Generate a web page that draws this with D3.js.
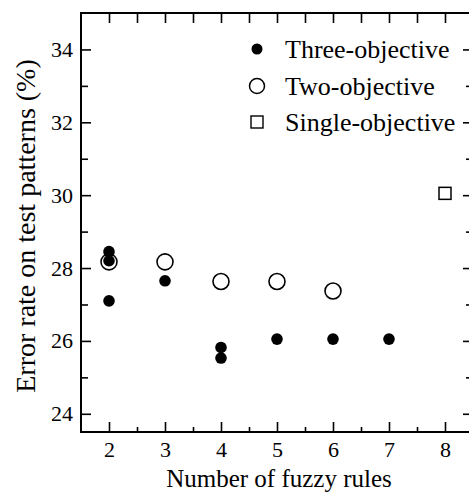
<!DOCTYPE html>
<html>
<head>
<meta charset="utf-8">
<script src="https://cdn.jsdelivr.net/npm/d3@7"></script>
<style>
  html, body { margin: 0; padding: 0; background: #fff; overflow: hidden; }
  svg { display: block; }
</style>
</head>
<body>
<div id="chart"></div>
<script>
"use strict";

// Values (error rate, %)
var threeObjective = [
  [2, 28.45], [2, 28.2], [2, 27.1],
  [3, 27.65],
  [4, 25.82], [4, 25.53],
  [5, 26.05], [6, 26.05], [7, 26.05]
];
var twoObjective = [[2, 28.17], [3, 28.17], [4, 27.63], [5, 27.63], [6, 27.37]];
var singleObjective = [[8, 30.05]];

var xTicks = [2, 3, 4, 5, 6, 7, 8];
var yTicks = [24, 26, 28, 30, 32, 34];
var legendLabels = ['Three-objective', 'Two-objective', 'Single-objective'];

var serif = '"Liberation Serif", "Times New Roman", Times, serif';
var width = 469, height = 492;
var plotLeft = 81, plotTop = 13, plotRight = 473, plotBottom = 432;

var x = d3.scaleLinear().domain([1.5, 8.5]).range([plotLeft, plotRight]);
var y = d3.scaleLinear().domain([23.5, 35]).range([plotBottom, plotTop]);

var svg = d3.select('#chart').append('svg')
  .attr('width', width)
  .attr('height', height)
  .style('font-family', serif);

// minor ticks sit half way between the major ones
var xMinor = d3.range(2.5, 8.5, 1);
var yMinor = d3.range(25, 35, 2);

var axisStyle = function (g) {
  g.attr('font-family', null).attr('font-size', null);
  g.select('.domain').remove();
  g.selectAll('line').attr('stroke', '#000').attr('stroke-width', 1.6);
  g.selectAll('text')
    .style('font-family', serif)
    .style('font-size', '22px')
    .attr('fill', '#000');
};

// bottom
svg.append('g').attr('transform', 'translate(0,' + plotBottom + ')')
  .call(d3.axisBottom(x).tickValues(xTicks).tickSizeInner(-10).tickSizeOuter(0).tickPadding(9).tickFormat(d3.format('d')))
  .call(axisStyle);
svg.append('g').attr('transform', 'translate(0,' + plotBottom + ')')
  .call(d3.axisBottom(x).tickValues(xMinor).tickSize(-5).tickFormat(''))
  .call(axisStyle);

// top
svg.append('g').attr('transform', 'translate(0,' + plotTop + ')')
  .call(d3.axisTop(x).tickValues(xTicks.concat(xMinor)).tickSize(-10).tickFormat(''))
  .call(axisStyle);

// left
svg.append('g').attr('transform', 'translate(' + plotLeft + ',0)')
  .call(d3.axisLeft(y).tickValues(yTicks).tickSizeInner(-10).tickSizeOuter(0).tickPadding(8).tickFormat(d3.format('d')))
  .call(axisStyle);
svg.append('g').attr('transform', 'translate(' + plotLeft + ',0)')
  .call(d3.axisLeft(y).tickValues(yMinor).tickSize(-7).tickFormat(''))
  .call(axisStyle);

// right (the frame edge itself falls just outside the picture)
svg.append('g').attr('transform', 'translate(' + plotRight + ',0)')
  .call(d3.axisRight(y).tickValues(yTicks).tickSize(-10).tickFormat(''))
  .call(axisStyle);
svg.append('g').attr('transform', 'translate(' + plotRight + ',0)')
  .call(d3.axisRight(y).tickValues(yMinor).tickSize(-7).tickFormat(''))
  .call(axisStyle);

// frame: left, top and bottom edges
svg.append('path')
  .attr('d', 'M' + plotRight + ',' + plotTop + 'H' + plotLeft + 'V' + plotBottom + 'H' + plotRight)
  .attr('fill', 'none').attr('stroke', '#000').attr('stroke-width', 2);

// markers
svg.append('g').selectAll('circle')
  .data(twoObjective)
  .enter().append('circle')
    .attr('cx', function (d) { return x(d[0]); })
    .attr('cy', function (d) { return y(d[1]); })
    .attr('r', 8)
    .attr('fill', 'none')
    .attr('stroke', '#000')
    .attr('stroke-width', 1.6);

svg.append('g').selectAll('circle')
  .data(threeObjective)
  .enter().append('circle')
    .attr('cx', function (d) { return x(d[0]); })
    .attr('cy', function (d) { return y(d[1]); })
    .attr('r', 5.8)
    .attr('fill', '#000');

svg.append('g').selectAll('rect')
  .data(singleObjective)
  .enter().append('rect')
    .attr('x', function (d) { return x(d[0]) - 6; })
    .attr('y', function (d) { return y(d[1]) - 6; })
    .attr('width', 12)
    .attr('height', 12)
    .attr('fill', 'none')
    .attr('stroke', '#000')
    .attr('stroke-width', 1.5);

// legend
var legend = svg.append('g');
var rowY = [49, 86, 122];
legend.append('circle').attr('cx', 257).attr('cy', rowY[0]).attr('r', 5.5).attr('fill', '#000');
legend.append('circle').attr('cx', 257).attr('cy', rowY[1]).attr('r', 7.5)
  .attr('fill', 'none').attr('stroke', '#000').attr('stroke-width', 1.5);
legend.append('rect').attr('x', 251).attr('y', rowY[2] - 6).attr('width', 12).attr('height', 12)
  .attr('fill', 'none').attr('stroke', '#000').attr('stroke-width', 1.4);
legend.selectAll('text')
  .data(legendLabels)
  .enter().append('text')
    .attr('x', 285)
    .attr('y', function (d, i) { return rowY[i] + 9; })
    .style('font-family', serif)
    .style('font-size', '26px')
    .text(function (d) { return d; });

// axis titles
svg.append('text')
  .attr('x', 279)
  .attr('y', 487)
  .attr('text-anchor', 'middle')
  .style('font-family', serif)
  .style('font-size', '25px')
  .text('Number of fuzzy rules');

svg.append('text')
  .attr('transform', 'translate(35,226) rotate(-90)')
  .attr('text-anchor', 'middle')
  .style('font-family', serif)
  .style('font-size', '28px')
  .text('Error rate on test patterns (%)');
</script>
</body>
</html>
